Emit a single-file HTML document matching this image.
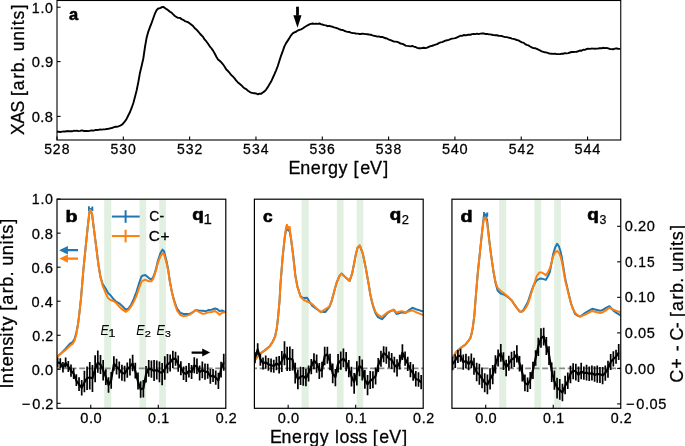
<!DOCTYPE html>
<html><head><meta charset="utf-8"><style>
html,body{margin:0;padding:0;background:#fff;}
svg{display:block;}
text{font-family:"Liberation Sans", sans-serif;fill:#000;}
svg{will-change:transform;}
</style></head><body>
<svg width="685" height="446" viewBox="0 0 685 446">
<rect x="0" y="0" width="685" height="446" fill="#fff"/>
<path d="M57.00,131.77 L58.66,131.80 L60.32,131.99 L61.98,131.58 L63.64,131.52 L65.30,131.46 L66.96,131.07 L68.62,131.21 L70.28,131.24 L71.94,131.31 L73.60,130.79 L75.26,130.89 L76.92,130.67 L78.58,131.07 L80.24,130.88 L81.90,130.33 L83.56,130.94 L85.22,131.01 L86.88,131.01 L88.54,131.08 L90.20,130.68 L91.86,130.44 L93.52,130.60 L95.18,130.07 L96.84,130.00 L98.50,129.85 L100.16,129.50 L101.82,129.60 L103.48,129.38 L105.14,129.42 L106.80,128.95 L108.46,128.78 L110.12,128.37 L111.78,128.04 L113.44,127.41 L115.10,126.82 L116.76,126.82 L118.42,126.34 L120.08,125.70 L121.74,124.94 L123.40,123.23 L125.06,121.13 L126.72,118.69 L128.38,115.24 L130.04,112.03 L131.70,107.71 L133.36,103.02 L135.02,96.81 L136.68,90.21 L138.34,82.04 L140.00,72.70 L141.66,65.75 L143.32,58.50 L144.98,47.00 L146.64,37.69 L148.30,31.60 L149.96,27.09 L151.62,22.88 L153.28,18.22 L154.94,13.55 L156.60,10.20 L158.26,8.53 L159.92,8.13 L161.58,7.29 L163.24,6.84 L164.90,7.96 L166.56,9.18 L168.22,10.20 L169.88,11.75 L171.54,12.63 L173.20,14.40 L174.86,15.93 L176.52,17.04 L178.18,17.83 L179.84,17.86 L181.50,19.12 L183.16,19.83 L184.82,21.04 L186.48,21.70 L188.14,22.24 L189.80,23.43 L191.46,24.74 L193.12,26.10 L194.78,28.22 L196.44,29.55 L198.10,31.45 L199.76,33.50 L201.42,35.25 L203.08,36.90 L204.74,39.72 L206.40,41.47 L208.06,43.75 L209.72,46.33 L211.38,48.25 L213.04,50.60 L214.70,53.55 L216.36,56.68 L218.02,59.44 L219.68,60.76 L221.34,62.46 L223.00,64.30 L224.66,66.68 L226.32,69.50 L227.98,71.02 L229.64,72.97 L231.30,75.11 L232.96,76.55 L234.62,78.33 L236.28,80.70 L237.94,82.46 L239.60,83.82 L241.26,85.17 L242.92,86.93 L244.58,88.40 L246.24,89.11 L247.90,90.72 L249.56,91.77 L251.22,92.56 L252.88,93.08 L254.54,93.28 L256.20,93.49 L257.86,94.27 L259.52,93.70 L261.18,93.71 L262.84,92.46 L264.50,91.39 L266.16,89.59 L267.82,87.12 L269.48,84.24 L271.14,81.59 L272.80,77.83 L274.46,74.23 L276.12,70.33 L277.78,66.00 L279.44,60.77 L281.10,55.56 L282.76,51.11 L284.42,46.33 L286.08,43.14 L287.74,40.62 L289.40,38.14 L291.06,35.28 L292.72,33.36 L294.38,32.38 L296.04,31.75 L297.70,30.55 L299.36,29.83 L301.02,29.29 L302.68,28.49 L304.34,27.26 L306.00,26.25 L307.66,25.28 L309.32,24.45 L310.98,23.90 L312.64,23.49 L314.30,23.84 L315.96,23.58 L317.62,23.87 L319.28,23.48 L320.94,24.23 L322.60,24.52 L324.26,25.17 L325.92,25.34 L327.58,26.19 L329.24,25.80 L330.90,26.30 L332.56,26.78 L334.22,27.35 L335.88,27.80 L337.54,28.40 L339.20,29.10 L340.86,29.75 L342.52,29.94 L344.18,30.75 L345.84,31.38 L347.50,31.84 L349.16,31.97 L350.82,32.67 L352.48,33.00 L354.14,33.12 L355.80,33.48 L357.46,33.60 L359.12,33.94 L360.78,34.03 L362.44,33.58 L364.10,33.87 L365.76,34.15 L367.42,34.30 L369.08,34.52 L370.74,34.70 L372.40,35.40 L374.06,35.75 L375.72,36.06 L377.38,36.66 L379.04,36.44 L380.70,37.04 L382.36,36.85 L384.02,37.73 L385.68,38.22 L387.34,38.70 L389.00,39.70 L390.66,40.19 L392.32,40.84 L393.98,41.59 L395.64,41.61 L397.30,41.94 L398.96,42.71 L400.62,43.55 L402.28,43.86 L403.94,44.49 L405.60,45.60 L407.26,45.90 L408.92,46.08 L410.58,46.40 L412.24,45.97 L413.90,46.54 L415.56,47.01 L417.22,47.87 L418.88,48.28 L420.54,48.20 L422.20,48.00 L423.86,47.71 L425.52,48.14 L427.18,47.64 L428.84,46.79 L430.50,46.09 L432.16,45.75 L433.82,45.24 L435.48,44.58 L437.14,44.16 L438.80,43.09 L440.46,42.42 L442.12,42.06 L443.78,41.34 L445.44,40.69 L447.10,40.23 L448.76,39.81 L450.42,39.19 L452.08,38.62 L453.74,38.41 L455.40,38.13 L457.06,37.43 L458.72,36.55 L460.38,35.75 L462.04,35.85 L463.70,35.04 L465.36,35.29 L467.02,34.99 L468.68,34.62 L470.34,34.79 L472.00,34.09 L473.66,34.02 L475.32,34.10 L476.98,33.68 L478.64,34.15 L480.30,33.67 L481.96,33.56 L483.62,33.49 L485.28,33.93 L486.94,33.90 L488.60,34.19 L490.26,34.43 L491.92,34.78 L493.58,35.13 L495.24,35.25 L496.90,35.25 L498.56,35.76 L500.22,35.85 L501.88,36.04 L503.54,36.68 L505.20,37.16 L506.86,37.13 L508.52,37.56 L510.18,37.98 L511.84,38.58 L513.50,38.84 L515.16,39.35 L516.82,40.00 L518.48,40.41 L520.14,41.44 L521.80,42.33 L523.46,42.59 L525.12,44.06 L526.78,44.87 L528.44,45.40 L530.10,46.50 L531.76,47.34 L533.42,48.11 L535.08,48.22 L536.74,48.84 L538.40,49.66 L540.06,50.45 L541.72,51.42 L543.38,51.87 L545.04,52.41 L546.70,52.50 L548.36,53.22 L550.02,53.60 L551.68,53.72 L553.34,53.93 L555.00,53.65 L556.66,54.13 L558.32,54.14 L559.98,54.08 L561.64,53.71 L563.30,53.75 L564.96,53.22 L566.62,53.41 L568.28,53.13 L569.94,52.50 L571.60,52.03 L573.26,52.03 L574.92,51.86 L576.58,51.74 L578.24,51.24 L579.90,50.56 L581.56,50.68 L583.22,49.73 L584.88,49.87 L586.54,48.98 L588.20,48.72 L589.86,48.88 L591.52,48.56 L593.18,48.66 L594.84,48.73 L596.50,48.58 L598.16,48.46 L599.82,48.18 L601.48,48.21 L603.14,47.80 L604.80,48.18 L606.46,47.88 L608.12,48.33 L609.78,48.96 L611.44,49.13 L613.10,49.30 L614.76,48.68 L616.42,48.31 L618.08,48.76 L619.74,48.89" fill="none" stroke="#000" stroke-width="1.9" stroke-linejoin="round" stroke-linecap="round" clip-path="url(#clipTop)"/>
<rect x="57.0" y="0.5" width="563.75" height="139.5" fill="none" stroke="#000" stroke-width="1.1"/>
<line x1="57.00" y1="140.0" x2="57.00" y2="136.4" stroke="#000" stroke-width="1.1"/>
<text transform="matrix(0.9556,0,0,1,0,0)" x="46.20 55.31 64.68" y="154.00" font-size="14.65" stroke="#000" stroke-width="0.28">528</text>
<line x1="123.32" y1="140.0" x2="123.32" y2="136.4" stroke="#000" stroke-width="1.1"/>
<text transform="matrix(0.9552,0,0,1,0,0)" x="115.65 124.92 134.14" y="154.00" font-size="14.65" stroke="#000" stroke-width="0.28">530</text>
<line x1="189.64" y1="140.0" x2="189.64" y2="136.4" stroke="#000" stroke-width="1.1"/>
<text transform="matrix(0.9552,0,0,1,0,0)" x="185.34 194.60 203.69" y="154.00" font-size="14.65" stroke="#000" stroke-width="0.28">532</text>
<line x1="255.96" y1="140.0" x2="255.96" y2="136.4" stroke="#000" stroke-width="1.1"/>
<text transform="matrix(0.9552,0,0,1,0,0)" x="254.45 263.71 273.01" y="154.00" font-size="14.65" stroke="#000" stroke-width="0.28">534</text>
<line x1="322.28" y1="140.0" x2="322.28" y2="136.4" stroke="#000" stroke-width="1.1"/>
<text transform="matrix(0.9552,0,0,1,0,0)" x="323.92 333.18 342.44" y="154.00" font-size="14.65" stroke="#000" stroke-width="0.28">536</text>
<line x1="388.60" y1="140.0" x2="388.60" y2="136.4" stroke="#000" stroke-width="1.1"/>
<text transform="matrix(0.9552,0,0,1,0,0)" x="393.39 402.65 411.88" y="154.00" font-size="14.65" stroke="#000" stroke-width="0.28">538</text>
<line x1="454.92" y1="140.0" x2="454.92" y2="136.4" stroke="#000" stroke-width="1.1"/>
<text transform="matrix(0.9920,0,0,1,0,0)" x="445.48 454.47 463.28" y="154.00" font-size="14.65" stroke="#000" stroke-width="0.28">540</text>
<line x1="521.24" y1="140.0" x2="521.24" y2="136.4" stroke="#000" stroke-width="1.1"/>
<text transform="matrix(0.9556,0,0,1,0,0)" x="532.27 541.60 550.60" y="154.00" font-size="14.65" stroke="#000" stroke-width="0.28">542</text>
<line x1="587.56" y1="140.0" x2="587.56" y2="136.4" stroke="#000" stroke-width="1.1"/>
<text transform="matrix(0.9920,0,0,1,0,0)" x="579.12 588.11 597.00" y="154.00" font-size="14.65" stroke="#000" stroke-width="0.28">544</text>
<line x1="57.0" y1="7.2" x2="60.6" y2="7.2" stroke="#000" stroke-width="1.1"/>
<line x1="57.0" y1="61.6" x2="60.6" y2="61.6" stroke="#000" stroke-width="1.1"/>
<line x1="57.0" y1="116.4" x2="60.6" y2="116.4" stroke="#000" stroke-width="1.1"/>
<text transform="matrix(1.0175,0,0,1,0,0)" x="283.45 294.98 305.34 316.03 322.33 332.68 347.45 354.03 363.73 376.71" y="173.80" font-size="17.67" stroke="#000" stroke-width="0.28">Energy[eV]</text>
<text transform="translate(24.10,0) rotate(-90) scale(0.9925,1)" x="-136.01 -124.51 -113.40 -96.81 -90.86 -79.38 -72.85 -62.50 -51.71 -41.02 -30.47 -25.43 -19.60 -9.45" y="0" font-size="17.67" stroke="#000" stroke-width="0.28">XAS[arb.units]</text>
<text x="68.91" y="19.80" font-size="17.41" textLength="9.15" lengthAdjust="spacingAndGlyphs" font-weight="bold" stroke="#000" stroke-width="0.6">a</text>
<rect x="296.1" y="6.7" width="2.8" height="9" fill="#000"/>
<path d="M293.3,15.2 L301.5,15.2 L297.5,27.8 Z" fill="#000"/>
<clipPath id="clipTop"><rect x="57" y="0" width="563.5" height="139.6"/></clipPath>
<clipPath id="clipP0"><rect x="57.0" y="199.2" width="168.8" height="209.10000000000002"/></clipPath>
<rect x="104.20" y="199.7" width="7.09" height="208.10000000000002" fill="#e2f0e2"/>
<rect x="139.44" y="199.7" width="6.75" height="208.10000000000002" fill="#e2f0e2"/>
<rect x="159.23" y="199.7" width="6.68" height="208.10000000000002" fill="#e2f0e2"/>
<line x1="57.0" y1="368.3" x2="225.8" y2="368.3" stroke="#8a8a8a" stroke-width="1.8" stroke-dasharray="5.9 2.6" stroke-dashoffset="3.3"/>
<path d="M57.00,356.92 L61.00,353.38 L64.90,349.51 L68.00,345.85 L70.20,343.52 L72.50,342.21 L74.50,338.95 L76.30,332.92 L77.60,326.54 L78.60,319.57 L79.60,311.20 L81.00,298.38 L82.20,284.00 L83.50,268.63 L85.60,247.59 L87.80,226.13 L89.50,211.45 L90.30,210.03 L92.00,213.82 L94.10,230.26 L96.30,247.72 L98.40,264.49 L100.50,276.99 L102.70,284.16 L105.90,289.05 L108.00,293.06 L110.50,295.25 L113.90,299.54 L116.50,301.94 L119.20,303.36 L122.50,306.31 L125.80,309.69 L128.50,308.60 L131.10,304.76 L133.80,298.92 L136.40,291.99 L139.00,283.51 L141.50,276.33 L143.20,275.40 L145.30,274.98 L148.60,277.87 L151.20,279.63 L153.00,277.55 L154.60,273.68 L156.30,267.87 L157.90,260.70 L160.50,252.98 L162.50,249.65 L164.00,251.16 L166.50,261.00 L168.20,269.74 L169.80,281.01 L171.50,290.16 L173.10,296.89 L175.00,303.12 L177.10,308.71 L180.50,313.03 L183.60,314.01 L187.00,314.11 L190.00,313.76 L193.00,312.21 L195.90,309.93 L198.50,310.54 L202.60,310.86 L205.50,311.35 L208.30,310.05 L211.50,309.73 L215.00,308.52 L217.50,309.22 L219.50,311.15 L222.00,310.49 L225.70,312.22" fill="none" stroke="#1f77b4" stroke-width="2.0" stroke-linejoin="round" clip-path="url(#clipP0)"/>
<line x1="88.9" y1="206.2" x2="88.9" y2="211.0" stroke="#1f77b4" stroke-width="1.8"/>
<line x1="92.4" y1="206.5" x2="92.4" y2="211.0" stroke="#1f77b4" stroke-width="1.8"/>
<path d="M88.90,208.40 L90.60,209.30 L92.40,208.40" fill="none" stroke="#1f77b4" stroke-width="2.2" stroke-linejoin="round"/>
<path d="M57.00,357.09 L61.00,353.33 L64.90,350.51 L68.00,347.74 L70.20,345.52 L72.50,344.01 L74.50,340.78 L76.30,334.51 L77.60,327.04 L78.60,319.82 L79.60,311.02 L81.00,298.60 L82.20,284.06 L83.50,268.52 L85.60,247.88 L87.80,226.31 L89.50,211.34 L90.30,209.78 L92.00,213.54 L94.10,230.49 L96.30,247.71 L98.40,264.34 L100.50,277.32 L102.70,285.85 L105.90,293.57 L108.00,298.05 L110.50,300.06 L113.90,301.28 L116.50,303.28 L119.20,306.56 L122.50,309.69 L125.80,311.84 L128.50,309.79 L131.10,306.49 L133.80,301.61 L136.40,296.07 L139.00,288.26 L141.50,281.58 L143.20,280.67 L145.30,279.51 L148.60,281.32 L151.20,281.34 L153.00,279.11 L154.60,274.79 L156.30,269.41 L157.90,262.97 L160.50,256.06 L162.50,253.44 L164.00,254.27 L166.50,262.91 L168.20,270.85 L169.80,281.32 L171.50,290.02 L173.10,297.36 L175.00,304.43 L177.10,310.55 L180.50,315.02 L183.60,316.30 L187.00,315.62 L190.00,314.58 L193.00,312.08 L195.90,309.72 L198.50,311.71 L202.60,313.77 L205.50,313.41 L208.30,312.34 L211.50,311.94 L215.00,311.09 L217.50,312.74 L219.50,314.69 L222.00,312.89 L225.70,312.05" fill="none" stroke="#ff7f0e" stroke-width="2.0" stroke-linejoin="round" clip-path="url(#clipP0)"/>
<path d="M57.60,357.55 V367.21 M60.28,358.31 V368.48 M62.96,361.96 V372.60 M65.64,357.59 V367.46 M68.32,360.88 V372.04 M71.00,364.52 V376.73 M73.68,368.29 V379.02 M76.36,374.31 V386.01 M79.04,377.17 V390.92 M81.72,379.95 V395.62 M84.40,370.82 V392.19 M87.08,366.41 V390.12 M89.76,361.90 V389.61 M92.44,364.99 V392.10 M95.12,355.36 V382.34 M97.80,350.56 V372.72 M100.48,355.07 V373.90 M103.16,359.88 V380.44 M105.84,369.34 V385.04 M108.52,377.28 V392.74 M111.20,371.96 V388.68 M113.88,356.17 V370.79 M116.56,358.80 V374.43 M119.24,361.46 V378.44 M121.92,364.83 V380.76 M124.60,365.71 V381.60 M127.28,362.56 V377.70 M129.96,358.41 V375.52 M132.64,354.67 V371.23 M135.32,362.87 V378.41 M138.00,372.58 V389.51 M140.68,381.25 V397.87 M143.36,379.93 V397.58 M146.04,365.99 V382.38 M148.72,360.05 V376.87 M151.40,360.55 V377.79 M154.08,360.00 V381.05 M156.76,360.61 V379.45 M159.44,361.46 V382.32 M162.12,362.97 V385.32 M164.80,356.32 V379.87 M167.48,354.00 V373.37 M170.16,354.46 V371.61 M172.84,350.68 V368.00 M175.52,351.74 V365.63 M178.20,355.51 V371.66 M180.88,361.37 V375.36 M183.56,366.55 V380.09 M186.24,365.63 V382.04 M188.92,362.97 V377.57 M191.60,365.05 V378.93 M194.28,357.28 V373.17 M196.96,358.39 V373.91 M199.64,365.41 V380.55 M202.32,361.42 V378.17 M205.00,363.48 V379.78 M207.68,363.86 V378.78 M210.36,368.95 V383.72 M213.04,369.08 V382.09 M215.72,370.55 V384.65 M218.40,372.66 V388.98 M221.08,361.81 V377.52 M223.76,353.70 V370.84 " fill="none" stroke="#000" stroke-width="1.7" clip-path="url(#clipP0)"/>
<path d="M57.60,362.39 L60.28,363.11 L62.96,367.63 L65.64,362.99 L68.32,366.51 L71.00,370.77 L73.68,373.57 L76.36,380.75 L79.04,384.37 L81.72,387.86 L84.40,382.54 L87.08,378.00 L89.76,377.41 L92.44,378.34 L95.12,368.97 L97.80,362.59 L100.48,364.57 L103.16,370.06 L105.84,377.15 L108.52,385.01 L111.20,380.19 L113.88,363.80 L116.56,366.67 L119.24,369.49 L121.92,372.99 L124.60,373.59 L127.28,369.16 L129.96,366.85 L132.64,363.44 L135.32,371.02 L138.00,381.81 L140.68,389.36 L143.36,388.50 L146.04,374.26 L148.72,368.53 L151.40,369.65 L154.08,370.91 L156.76,369.87 L159.44,371.86 L162.12,372.92 L164.80,368.97 L167.48,364.30 L170.16,362.70 L172.84,358.62 L175.52,358.85 L178.20,364.07 L180.88,367.93 L183.56,372.77 L186.24,373.96 L188.92,370.75 L191.60,372.21 L194.28,365.50 L196.96,366.67 L199.64,372.31 L202.32,369.94 L205.00,371.62 L207.68,371.90 L210.36,376.52 L213.04,375.59 L215.72,377.62 L218.40,380.53 L221.08,369.12 L223.76,362.31" fill="none" stroke="#000" stroke-width="2.1" stroke-linejoin="round" clip-path="url(#clipP0)"/>
<rect x="57.0" y="199.2" width="168.8" height="209.10000000000002" fill="none" stroke="#000" stroke-width="1.2"/>
<line x1="90.76" y1="408.3" x2="90.76" y2="404.7" stroke="#000" stroke-width="1.1"/>
<text transform="matrix(0.9952,0,0,1,0,0)" x="80.70 89.42 93.98" y="422.70" font-size="14.64" stroke="#000" stroke-width="0.28">0.0</text>
<line x1="158.28" y1="408.3" x2="158.28" y2="404.7" stroke="#000" stroke-width="1.1"/>
<text transform="matrix(0.9706,0,0,1,0,0)" x="152.60 161.48 166.18" y="422.70" font-size="14.64" stroke="#000" stroke-width="0.28">0.1</text>
<text transform="matrix(0.9758,0,0,1,0,0)" x="221.03 229.88 234.43" y="422.70" font-size="14.64" stroke="#000" stroke-width="0.28">0.2</text>
<line x1="57.0" y1="199.10" x2="60.6" y2="199.10" stroke="#000" stroke-width="1.1"/>
<line x1="57.0" y1="233.14" x2="60.6" y2="233.14" stroke="#000" stroke-width="1.1"/>
<line x1="57.0" y1="267.18" x2="60.6" y2="267.18" stroke="#000" stroke-width="1.1"/>
<line x1="57.0" y1="301.22" x2="60.6" y2="301.22" stroke="#000" stroke-width="1.1"/>
<line x1="57.0" y1="335.26" x2="60.6" y2="335.26" stroke="#000" stroke-width="1.1"/>
<line x1="57.0" y1="369.30" x2="60.6" y2="369.30" stroke="#000" stroke-width="1.1"/>
<line x1="57.0" y1="403.34" x2="60.6" y2="403.34" stroke="#000" stroke-width="1.1"/>
<text x="65.53" y="221.80" font-size="16.00" textLength="11.98" lengthAdjust="spacingAndGlyphs" font-weight="bold" stroke="#000" stroke-width="0.6">b</text>
<text x="192.35" y="219.90" font-size="15.93" textLength="11.49" lengthAdjust="spacingAndGlyphs" font-weight="bold" stroke="#000" stroke-width="0.6">q</text>
<text x="203.59" y="223.50" font-size="13.94" textLength="8.31" lengthAdjust="spacingAndGlyphs" font-family="Liberation Serif, serif" stroke="#000" stroke-width="0.25">1</text>
<clipPath id="clipP1"><rect x="254.4" y="199.2" width="168.8" height="209.10000000000002"/></clipPath>
<rect x="301.60" y="199.7" width="7.09" height="208.10000000000002" fill="#e2f0e2"/>
<rect x="336.84" y="199.7" width="6.75" height="208.10000000000002" fill="#e2f0e2"/>
<rect x="356.63" y="199.7" width="6.68" height="208.10000000000002" fill="#e2f0e2"/>
<line x1="254.4" y1="368.3" x2="423.20000000000005" y2="368.3" stroke="#8a8a8a" stroke-width="1.8" stroke-dasharray="5.9 2.6" stroke-dashoffset="3.3"/>
<path d="M254.60,360.56 L257.50,356.57 L260.30,353.52 L265.00,350.14 L269.70,346.26 L272.80,341.49 L275.20,336.05 L276.80,328.40 L277.90,318.87 L278.80,309.38 L279.60,300.05 L280.50,283.71 L282.60,257.60 L284.80,237.44 L286.20,228.97 L286.80,228.52 L288.20,230.40 L289.50,230.25 L291.10,239.38 L293.30,255.89 L295.40,275.61 L297.50,286.77 L300.70,296.70 L303.90,298.06 L307.10,297.72 L309.50,301.78 L312.20,305.66 L316.20,308.76 L320.80,311.81 L325.50,311.95 L329.40,306.94 L331.50,301.37 L333.40,294.57 L335.00,288.22 L336.70,282.50 L339.50,275.92 L341.60,273.60 L344.90,276.72 L349.60,280.90 L352.20,273.30 L354.00,264.20 L355.50,255.92 L357.50,247.88 L359.80,245.61 L362.80,253.64 L365.50,266.43 L367.20,275.95 L368.80,284.98 L370.10,293.46 L371.80,301.27 L373.40,307.16 L375.50,313.22 L378.00,317.11 L382.00,319.22 L384.50,316.46 L387.30,313.29 L390.50,311.10 L393.90,310.07 L396.60,313.92 L399.00,313.34 L401.80,312.39 L405.80,312.74 L409.00,310.14 L412.40,307.73 L417.00,309.56 L423.40,311.59" fill="none" stroke="#1f77b4" stroke-width="2.0" stroke-linejoin="round" clip-path="url(#clipP1)"/>
<line x1="286.9" y1="224.0" x2="286.9" y2="229.5" stroke="#ff7f0e" stroke-width="1.8"/>
<line x1="289.6" y1="226.1" x2="289.6" y2="230.5" stroke="#ff7f0e" stroke-width="1.8"/>
<path d="M286.90,226.40 L288.30,228.20 L289.60,227.80" fill="none" stroke="#ff7f0e" stroke-width="2.2" stroke-linejoin="round"/>
<path d="M254.60,360.69 L257.50,356.44 L260.30,353.64 L265.00,350.43 L269.70,346.42 L272.80,341.76 L275.20,336.26 L276.80,328.24 L277.90,318.93 L278.80,309.14 L279.60,299.91 L280.50,283.98 L282.60,257.31 L284.80,236.21 L286.20,226.58 L286.80,225.27 L288.20,227.44 L289.50,227.27 L291.10,238.50 L293.30,257.50 L295.40,276.80 L297.50,287.34 L300.70,296.92 L303.90,300.03 L307.10,301.50 L309.50,302.59 L312.20,304.12 L316.20,308.06 L320.80,312.19 L325.50,309.01 L329.40,306.67 L331.50,301.64 L333.40,294.55 L335.00,288.44 L336.70,282.53 L339.50,275.82 L341.60,273.63 L344.90,276.86 L349.60,280.85 L352.20,273.34 L354.00,264.03 L355.50,255.90 L357.50,247.58 L359.80,245.34 L362.80,253.50 L365.50,266.58 L367.20,276.19 L368.80,284.75 L370.10,293.26 L371.80,300.66 L373.40,306.23 L375.50,311.76 L378.00,314.90 L382.00,317.08 L384.50,314.80 L387.30,312.40 L390.50,310.87 L393.90,309.54 L396.60,312.67 L399.00,311.75 L401.80,311.12 L405.80,312.46 L409.00,311.42 L412.40,310.27 L417.00,312.59 L423.40,315.14" fill="none" stroke="#ff7f0e" stroke-width="2.0" stroke-linejoin="round" clip-path="url(#clipP1)"/>
<path d="M255.00,352.19 V363.22 M257.68,343.30 V354.78 M260.36,353.76 V365.84 M263.04,357.61 V369.54 M265.72,355.53 V368.85 M268.40,358.08 V370.76 M271.08,358.39 V372.34 M273.76,359.85 V372.87 M276.44,356.73 V370.24 M279.12,356.08 V373.54 M281.80,350.90 V372.07 M284.48,341.26 V365.22 M287.16,346.69 V371.10 M289.84,346.53 V370.91 M292.52,348.88 V370.56 M295.20,362.66 V383.44 M297.88,369.41 V389.31 M300.56,366.82 V384.95 M303.24,367.12 V385.75 M305.92,368.99 V386.13 M308.60,365.49 V381.46 M311.28,359.10 V374.31 M313.96,353.17 V369.28 M316.64,354.52 V372.72 M319.32,363.08 V379.07 M322.00,361.72 V377.49 M324.68,346.84 V365.32 M327.36,346.83 V363.80 M330.04,353.65 V370.17 M332.72,363.59 V383.28 M335.40,368.93 V386.24 M338.08,353.88 V372.59 M340.76,351.54 V369.68 M343.44,348.41 V367.13 M346.12,352.10 V371.33 M348.80,360.08 V377.27 M351.48,366.64 V386.54 M354.16,373.04 V393.80 M356.84,361.31 V385.57 M359.52,356.09 V376.19 M362.20,359.39 V380.45 M364.88,370.09 V388.81 M367.56,375.03 V395.25 M370.24,371.02 V389.06 M372.92,371.29 V388.31 M375.60,367.62 V384.50 M378.28,358.11 V371.97 M380.96,350.75 V366.79 M383.64,346.28 V362.16 M386.32,346.71 V363.83 M389.00,351.56 V367.63 M391.68,352.94 V369.09 M394.36,356.63 V372.47 M397.04,359.16 V376.48 M399.72,354.77 V369.52 M402.40,344.30 V359.97 M405.08,351.47 V365.87 M407.76,356.64 V371.02 M410.44,361.89 V377.23 M413.12,364.22 V380.64 M415.80,371.09 V386.50 M418.48,372.13 V386.68 M421.16,375.11 V389.34 " fill="none" stroke="#000" stroke-width="1.7" clip-path="url(#clipP1)"/>
<path d="M255.00,358.15 L257.68,349.28 L260.36,359.06 L263.04,363.29 L265.72,362.36 L268.40,364.23 L271.08,365.14 L273.76,365.90 L276.44,363.45 L279.12,365.14 L281.80,361.18 L284.48,354.04 L287.16,359.09 L289.84,358.40 L292.52,359.59 L295.20,372.37 L297.88,379.12 L300.56,376.79 L303.24,375.94 L305.92,378.47 L308.60,373.07 L311.28,366.49 L313.96,360.48 L316.64,363.48 L319.32,370.39 L322.00,370.23 L324.68,355.98 L327.36,354.41 L330.04,361.80 L332.72,373.64 L335.40,377.21 L338.08,363.49 L340.76,360.43 L343.44,358.80 L346.12,361.88 L348.80,368.23 L351.48,376.75 L354.16,381.99 L356.84,373.14 L359.52,365.87 L362.20,368.72 L364.88,379.67 L367.56,384.43 L370.24,380.79 L372.92,378.83 L375.60,375.90 L378.28,365.08 L380.96,359.08 L383.64,353.19 L386.32,355.07 L389.00,358.65 L391.68,360.04 L394.36,364.69 L397.04,367.36 L399.72,362.31 L402.40,352.49 L405.08,358.61 L407.76,363.65 L410.44,369.57 L413.12,373.00 L415.80,379.19 L418.48,379.80 L421.16,382.50" fill="none" stroke="#000" stroke-width="2.1" stroke-linejoin="round" clip-path="url(#clipP1)"/>
<rect x="254.4" y="199.2" width="168.8" height="209.10000000000002" fill="none" stroke="#000" stroke-width="1.2"/>
<line x1="288.16" y1="408.3" x2="288.16" y2="404.7" stroke="#000" stroke-width="1.1"/>
<text transform="matrix(0.9952,0,0,1,0,0)" x="279.05 287.77 292.33" y="422.70" font-size="14.64" stroke="#000" stroke-width="0.28">0.0</text>
<line x1="355.68" y1="408.3" x2="355.68" y2="404.7" stroke="#000" stroke-width="1.1"/>
<text transform="matrix(0.9706,0,0,1,0,0)" x="355.98 364.87 369.56" y="422.70" font-size="14.64" stroke="#000" stroke-width="0.28">0.1</text>
<text transform="matrix(0.9758,0,0,1,0,0)" x="423.33 432.18 436.73" y="422.70" font-size="14.64" stroke="#000" stroke-width="0.28">0.2</text>
<text x="262.91" y="222.30" font-size="16.11" textLength="9.63" lengthAdjust="spacingAndGlyphs" font-weight="bold" stroke="#000" stroke-width="0.6">c</text>
<text x="389.75" y="219.90" font-size="15.93" textLength="11.49" lengthAdjust="spacingAndGlyphs" font-weight="bold" stroke="#000" stroke-width="0.6">q</text>
<text x="401.75" y="223.50" font-size="13.14" textLength="7.21" lengthAdjust="spacingAndGlyphs" stroke="#000" stroke-width="0.25">2</text>
<clipPath id="clipP2"><rect x="451.95" y="199.2" width="168.8" height="209.10000000000002"/></clipPath>
<rect x="499.15" y="199.7" width="7.09" height="208.10000000000002" fill="#e2f0e2"/>
<rect x="534.39" y="199.7" width="6.75" height="208.10000000000002" fill="#e2f0e2"/>
<rect x="554.18" y="199.7" width="6.68" height="208.10000000000002" fill="#e2f0e2"/>
<line x1="451.95" y1="368.3" x2="620.75" y2="368.3" stroke="#8a8a8a" stroke-width="1.8" stroke-dasharray="5.9 2.6" stroke-dashoffset="3.3"/>
<path d="M451.80,358.61 L456.40,351.69 L460.90,347.74 L465.40,344.58 L469.00,340.23 L470.50,337.63 L471.70,333.33 L472.70,328.12 L473.50,322.03 L474.40,315.14 L475.40,301.65 L476.60,286.78 L477.90,271.66 L480.10,250.81 L482.20,230.87 L483.90,215.56 L485.20,214.37 L487.10,220.06 L489.20,239.79 L491.30,256.47 L493.50,271.78 L495.60,283.25 L497.70,290.74 L500.90,293.67 L505.20,295.13 L509.00,297.93 L511.80,300.45 L514.50,304.71 L517.20,308.43 L519.80,311.60 L521.80,311.65 L523.80,309.47 L525.80,305.69 L527.80,302.38 L529.80,296.26 L531.70,290.38 L533.70,285.28 L536.60,280.27 L539.30,278.79 L541.90,278.58 L545.90,279.87 L548.00,276.10 L549.90,271.86 L551.60,262.57 L553.20,253.95 L555.20,247.37 L557.20,243.86 L558.90,246.26 L560.50,251.23 L561.80,257.27 L563.10,265.55 L565.10,278.07 L567.70,289.36 L569.40,296.75 L571.10,303.46 L573.00,308.97 L575.00,313.83 L577.60,315.70 L580.30,316.51 L585.60,312.56 L589.00,310.66 L592.20,308.79 L596.00,309.77 L600.20,310.82 L603.00,309.81 L605.50,308.09 L609.40,306.22 L613.40,310.70 L616.50,312.80 L620.60,315.50" fill="none" stroke="#1f77b4" stroke-width="2.0" stroke-linejoin="round" clip-path="url(#clipP2)"/>
<line x1="484.0" y1="212.1" x2="484.0" y2="216.8" stroke="#1f77b4" stroke-width="1.8"/>
<line x1="487.3" y1="212.4" x2="487.3" y2="216.8" stroke="#1f77b4" stroke-width="1.8"/>
<path d="M484.00,214.20 L485.60,215.20 L487.30,214.40" fill="none" stroke="#1f77b4" stroke-width="2.2" stroke-linejoin="round"/>
<path d="M451.80,358.67 L456.40,351.76 L460.90,347.92 L465.40,344.54 L469.00,340.05 L470.50,337.61 L471.70,333.13 L472.70,328.08 L473.50,322.22 L474.40,314.99 L475.40,301.43 L476.60,286.91 L477.90,271.95 L480.10,250.80 L482.20,231.14 L483.90,218.37 L485.20,217.09 L487.10,222.97 L489.20,240.06 L491.30,256.73 L493.50,271.75 L495.60,282.35 L497.70,287.99 L500.90,290.92 L505.20,294.29 L509.00,297.69 L511.80,300.70 L514.50,304.63 L517.20,308.65 L519.80,311.45 L521.80,311.56 L523.80,310.52 L525.80,307.76 L527.80,304.23 L529.80,298.25 L531.70,291.75 L533.70,285.54 L536.60,276.29 L539.30,272.51 L541.90,272.48 L545.90,275.17 L548.00,272.25 L549.90,268.23 L551.60,262.60 L553.20,256.25 L555.20,252.38 L557.20,250.93 L558.90,252.62 L560.50,256.37 L561.80,261.29 L563.10,268.31 L565.10,280.14 L567.70,290.52 L569.40,297.57 L571.10,303.93 L573.00,308.84 L575.00,312.65 L577.60,315.26 L580.30,316.65 L585.60,314.36 L589.00,312.58 L592.20,310.98 L596.00,312.09 L600.20,313.04 L603.00,312.26 L605.50,310.64 L609.40,307.65 L613.40,309.72 L616.50,310.92 L620.60,312.32" fill="none" stroke="#ff7f0e" stroke-width="2.0" stroke-linejoin="round" clip-path="url(#clipP2)"/>
<path d="M452.55,356.79 V370.27 M455.23,354.22 V368.03 M457.91,349.95 V363.09 M460.59,348.77 V361.68 M463.27,354.48 V369.65 M465.95,353.80 V368.36 M468.63,356.37 V370.30 M471.31,353.56 V368.05 M473.99,357.84 V374.79 M476.67,362.70 V381.31 M479.35,363.70 V384.71 M482.03,367.58 V388.27 M484.71,373.13 V392.30 M487.39,374.58 V394.29 M490.07,368.18 V389.40 M492.75,364.89 V384.37 M495.43,355.19 V373.46 M498.11,349.51 V366.38 M500.79,343.88 V361.75 M503.47,352.29 V369.88 M506.15,359.72 V376.18 M508.83,355.69 V370.80 M511.51,351.73 V368.33 M514.19,350.72 V366.95 M516.87,345.28 V362.54 M519.55,355.98 V371.58 M522.23,364.41 V381.39 M524.91,374.53 V391.21 M527.59,377.62 V392.07 M530.27,372.05 V388.88 M532.95,361.81 V378.89 M535.63,350.35 V365.81 M538.31,337.84 V355.99 M540.99,328.34 V347.76 M543.67,327.71 V345.50 M546.35,336.88 V354.96 M549.03,346.35 V364.93 M551.71,362.40 V381.98 M554.39,370.39 V389.83 M557.07,377.82 V398.43 M559.75,378.98 V399.75 M562.43,383.73 V401.14 M565.11,375.85 V394.19 M567.79,372.54 V389.04 M570.47,365.65 V383.37 M573.15,363.24 V379.19 M575.83,363.75 V380.47 M578.51,366.39 V381.89 M581.19,362.78 V379.28 M583.87,366.47 V379.86 M586.55,364.77 V380.38 M589.23,366.45 V380.98 M591.91,365.43 V380.54 M594.59,366.20 V381.71 M597.27,365.57 V382.82 M599.95,367.10 V383.02 M602.63,366.96 V384.29 M605.31,365.55 V380.70 M607.99,360.70 V377.72 M610.67,353.94 V369.92 M613.35,351.17 V366.47 M616.03,349.82 V363.73 M618.71,343.91 V360.08 " fill="none" stroke="#000" stroke-width="1.7" clip-path="url(#clipP2)"/>
<path d="M452.55,364.01 L455.23,360.47 L457.91,355.94 L460.59,355.84 L463.27,362.01 L465.95,360.97 L468.63,364.04 L471.31,360.83 L473.99,366.35 L476.67,372.32 L479.35,374.51 L482.03,378.65 L484.71,382.54 L487.39,384.84 L490.07,379.21 L492.75,374.63 L495.43,364.58 L498.11,356.91 L500.79,353.13 L503.47,360.92 L506.15,367.10 L508.83,363.47 L511.51,359.45 L514.19,358.18 L516.87,354.49 L519.55,363.66 L522.23,372.80 L524.91,382.84 L527.59,384.76 L530.27,379.85 L532.95,370.01 L535.63,358.01 L538.31,346.36 L540.99,338.07 L543.67,336.30 L546.35,345.92 L549.03,354.56 L551.71,371.08 L554.39,381.46 L557.07,387.59 L559.75,390.12 L562.43,392.52 L565.11,386.01 L567.79,381.36 L570.47,373.97 L573.15,370.39 L575.83,371.66 L578.51,374.70 L581.19,371.51 L583.87,373.19 L586.55,372.62 L589.23,373.91 L591.91,373.02 L594.59,374.96 L597.27,374.09 L599.95,374.10 L602.63,375.40 L605.31,373.03 L607.99,368.48 L610.67,362.20 L613.35,359.00 L616.03,356.71 L618.71,352.65" fill="none" stroke="#000" stroke-width="2.1" stroke-linejoin="round" clip-path="url(#clipP2)"/>
<rect x="451.95" y="199.2" width="168.8" height="209.10000000000002" fill="none" stroke="#000" stroke-width="1.2"/>
<line x1="485.71" y1="408.3" x2="485.71" y2="404.7" stroke="#000" stroke-width="1.1"/>
<text transform="matrix(0.9952,0,0,1,0,0)" x="477.55 486.27 490.83" y="422.70" font-size="14.64" stroke="#000" stroke-width="0.28">0.0</text>
<line x1="553.23" y1="408.3" x2="553.23" y2="404.7" stroke="#000" stroke-width="1.1"/>
<text transform="matrix(0.9706,0,0,1,0,0)" x="559.52 568.40 573.10" y="422.70" font-size="14.64" stroke="#000" stroke-width="0.28">0.1</text>
<text transform="matrix(0.9758,0,0,1,0,0)" x="625.79 634.63 639.19" y="422.70" font-size="14.64" stroke="#000" stroke-width="0.28">0.2</text>
<line x1="617.15" y1="226.30" x2="620.75" y2="226.30" stroke="#000" stroke-width="1.1"/>
<line x1="617.15" y1="261.82" x2="620.75" y2="261.82" stroke="#000" stroke-width="1.1"/>
<line x1="617.15" y1="297.35" x2="620.75" y2="297.35" stroke="#000" stroke-width="1.1"/>
<line x1="617.15" y1="332.88" x2="620.75" y2="332.88" stroke="#000" stroke-width="1.1"/>
<line x1="617.15" y1="368.40" x2="620.75" y2="368.40" stroke="#000" stroke-width="1.1"/>
<line x1="617.15" y1="403.92" x2="620.75" y2="403.92" stroke="#000" stroke-width="1.1"/>
<text x="460.41" y="222.30" font-size="16.28" textLength="12.10" lengthAdjust="spacingAndGlyphs" font-weight="bold" stroke="#000" stroke-width="0.6">d</text>
<text x="587.30" y="219.90" font-size="15.93" textLength="11.49" lengthAdjust="spacingAndGlyphs" font-weight="bold" stroke="#000" stroke-width="0.6">q</text>
<text x="599.45" y="223.50" font-size="13.14" textLength="6.91" lengthAdjust="spacingAndGlyphs" stroke="#000" stroke-width="0.25">3</text>
<text transform="matrix(0.9706,0,0,1,0,0)" x="32.72 41.64 46.38" y="12.60" font-size="14.64" stroke="#000" stroke-width="0.28">1.0</text>
<text transform="matrix(1.0062,0,0,1,0,0)" x="31.53 40.17 44.66" y="67.00" font-size="14.64" stroke="#000" stroke-width="0.28">0.9</text>
<text transform="matrix(1.0058,0,0,1,0,0)" x="31.47 40.11 44.61" y="121.80" font-size="14.64" stroke="#000" stroke-width="0.28">0.8</text>
<text transform="matrix(0.9706,0,0,1,0,0)" x="32.72 41.64 46.38" y="204.50" font-size="14.64" stroke="#000" stroke-width="0.28">1.0</text>
<text transform="matrix(1.0058,0,0,1,0,0)" x="31.47 40.11 44.61" y="238.54" font-size="14.64" stroke="#000" stroke-width="0.28">0.8</text>
<text transform="matrix(1.0113,0,0,1,0,0)" x="31.21 39.82 44.31" y="272.58" font-size="14.64" stroke="#000" stroke-width="0.28">0.6</text>
<text transform="matrix(0.9940,0,0,1,0,0)" x="31.75 40.48 45.12" y="306.62" font-size="14.64" stroke="#000" stroke-width="0.28">0.4</text>
<text transform="matrix(0.9758,0,0,1,0,0)" x="33.06 41.91 46.46" y="340.66" font-size="14.64" stroke="#000" stroke-width="0.28">0.2</text>
<text transform="matrix(0.9952,0,0,1,0,0)" x="31.85 40.56 45.13" y="374.70" font-size="14.64" stroke="#000" stroke-width="0.28">0.0</text>
<text transform="matrix(0.9952,0,0,1,0,0)" x="21.92 32.38 41.09 45.52" y="408.74" font-size="14.64" stroke="#000" stroke-width="0.28">−0.2</text>
<text transform="matrix(0.9952,0,0,1,0,0)" x="627.82 636.54 640.96 649.95" y="231.45" font-size="14.64" stroke="#000" stroke-width="0.28">0.20</text>
<text transform="matrix(0.9459,0,0,1,0,0)" x="660.73 669.79 674.67 683.98" y="266.97" font-size="14.64" stroke="#000" stroke-width="0.28">0.15</text>
<text transform="matrix(0.9952,0,0,1,0,0)" x="627.82 636.54 641.06 649.95" y="302.50" font-size="14.64" stroke="#000" stroke-width="0.28">0.10</text>
<text transform="matrix(0.9952,0,0,1,0,0)" x="627.82 636.54 641.10 649.92" y="338.02" font-size="14.64" stroke="#000" stroke-width="0.28">0.05</text>
<text transform="matrix(0.9952,0,0,1,0,0)" x="627.82 636.54 641.10 649.95" y="373.55" font-size="14.64" stroke="#000" stroke-width="0.28">0.00</text>
<text transform="matrix(0.9952,0,0,1,0,0)" x="628.98 639.43 648.14 652.71 661.53" y="409.07" font-size="14.64" stroke="#000" stroke-width="0.28">−0.05</text>
<line x1="111.9" y1="216.55" x2="139.7" y2="216.55" stroke="#1f77b4" stroke-width="2"/>
<line x1="125.6" y1="210.2" x2="125.6" y2="222.8" stroke="#1f77b4" stroke-width="2"/>
<line x1="111.9" y1="236.05" x2="139.7" y2="236.05" stroke="#ff7f0e" stroke-width="2"/>
<line x1="125.6" y1="229.7" x2="125.6" y2="242.4" stroke="#ff7f0e" stroke-width="2"/>
<text transform="matrix(0.9510,0,0,1,0,0)" x="156.95 167.61" y="221.50" font-size="14.64" stroke="#000" stroke-width="0.28">C-</text>
<text transform="matrix(1.0490,0,0,1,0,0)" x="141.80 153.01" y="241.30" font-size="14.64" stroke="#000" stroke-width="0.28">C+</text>
<path d="M59.1,250.2 L67.9,245.9 L67.9,249.1 L78,249.1 L78,251.3 L67.9,251.3 L67.9,254.4 Z" fill="#1f77b4"/>
<path d="M59.4,258.6 L67.9,254.6 L67.9,257.5 L78,257.5 L78,259.7 L67.9,259.7 L67.9,262.7 Z" fill="#ff7f0e"/>
<path d="M210.1,352.6 L202.2,348.6 L202.2,351.5 L191.6,351.5 L191.6,353.7 L202.2,353.7 L202.2,356.5 Z" fill="#000"/>
<text x="100.62" y="334.80" font-size="14.49" textLength="8.38" lengthAdjust="spacingAndGlyphs" font-style="italic">E</text>
<text x="108.53" y="336.70" font-size="10.15" textLength="6.90" lengthAdjust="spacingAndGlyphs" font-family="Liberation Serif, serif" stroke="#000" stroke-width="0.2">1</text>
<text x="136.22" y="334.80" font-size="14.49" textLength="8.38" lengthAdjust="spacingAndGlyphs" font-style="italic">E</text>
<text x="144.65" y="336.70" font-size="9.57" textLength="6.11" lengthAdjust="spacingAndGlyphs" stroke="#000" stroke-width="0.2">2</text>
<text x="156.42" y="334.80" font-size="14.49" textLength="8.38" lengthAdjust="spacingAndGlyphs" font-style="italic">E</text>
<text x="164.98" y="336.70" font-size="9.57" textLength="5.85" lengthAdjust="spacingAndGlyphs" stroke="#000" stroke-width="0.2">3</text>
<text transform="matrix(1.0049,0,0,1,0,0)" x="268.57 280.21 290.68 301.47 307.85 318.30 333.44 337.92 347.97 356.68 370.82 377.49 387.30 400.37" y="443.20" font-size="17.67" stroke="#000" stroke-width="0.28">Energyloss[eV]</text>
<text transform="translate(13.00,0) rotate(-90) scale(1.0230,1)" x="-379.84 -374.70 -363.99 -358.12 -347.98 -338.03 -329.15 -324.27 -318.24 -303.68 -297.95 -286.73 -280.41 -270.28 -259.83 -249.43 -239.08 -234.20 -228.57 -218.63" y="0" font-size="17.67" stroke="#000" stroke-width="0.28">Intensity[arb.units]</text>
<text transform="translate(682.50,0) rotate(-90) scale(1.0224,1)" x="-374.46 -360.67 -343.48 -333.24 -321.07 -309.95 -304.22 -293.00 -286.70 -276.56 -266.13 -255.73 -245.39 -240.51 -234.88 -224.94" y="0" font-size="17.67" stroke="#000" stroke-width="0.28">C+-C-[arb.units]</text>
</svg>
</body></html>
